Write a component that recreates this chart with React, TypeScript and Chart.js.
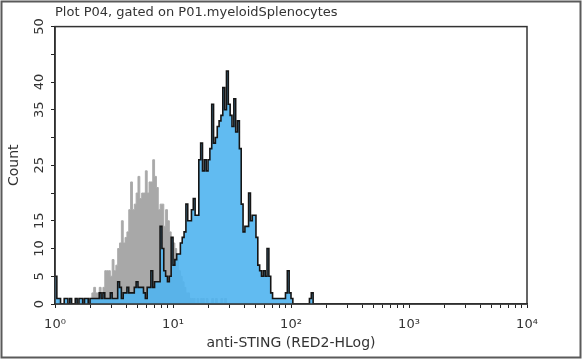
import React, { useEffect, useRef } from 'react';
import { Chart, registerables } from 'chart.js';

Chart.register(...registerables);

const chartTitle = 'Plot P04, gated on P01.myeloidSplenocytes';
const xAxisTitle = 'anti-STING (RED2-HLog)';
const yAxisTitle = 'Count';

const binsPerDecade = 64;
const decadeExponents = [0, 1, 2, 3, 4];
const decadeLabels = ['10⁰', '10¹', '10²', '10³', '10⁴'];
const minorMultiples = [2, 3, 4, 5, 6, 7, 8, 9];
const yTickLabelsShown = [0, 5, 10, 15, 25, 35, 40, 50];

// grey histogram (control), one value per bin, 64 bins per decade starting at 10^0
const isotypeCounts = [
  0, 0, 1, 0, 0, 1, 0, 0, 1, 0,
  0, 1, 0, 1, 0, 1, 1, 0, 1, 1,
  2, 3, 2, 2, 3, 2, 3, 6, 6, 6,
  5, 8, 6, 7, 10, 11, 15, 11, 12, 13,
  17, 22, 17, 18, 20, 23, 19, 20, 20, 24,
  20, 22, 22, 26, 23, 21, 17, 18, 18, 14,
  17, 15, 13, 12, 11, 10, 8, 6, 5, 4,
  3, 2, 2, 1, 1, 1, 0, 1, 0, 1,
  1, 0, 1, 0, 0, 1, 0, 1, 0, 0,
  1, 0, 1, 0, 0, 0, 0, 0, 0, 0,
  0, 0, 0, 0, 0, 0, 0, 0, 0, 0,
  0, 0, 0, 0, 0, 0, 0, 0, 0, 0,
  0, 0, 0, 0, 0, 0, 0, 0, 0, 0,
  0, 0, 0, 0, 0, 0, 0, 0, 0, 0,
  0, 0, 0, 0,
];

// blue histogram (anti-STING), same bins
const stingCounts = [
  5, 1, 1, 0, 0, 1, 1, 0, 1, 0,
  0, 1, 0, 1, 1, 0, 1, 1, 0, 1,
  1, 1, 1, 1, 2, 1, 2, 1, 1, 1,
  2, 1, 1, 1, 4, 3, 1, 2, 2, 3,
  2, 2, 2, 3, 4, 3, 3, 3, 2, 1,
  3, 3, 6, 3, 4, 4, 4, 14, 10, 6,
  5, 4, 5, 12, 7, 8, 9, 9, 11, 12,
  13, 18, 15, 15, 17, 19, 16, 16, 26, 29,
  24, 26, 24, 26, 28, 36, 29, 30, 32, 33,
  34, 39, 35, 42, 36, 34, 32, 37, 31, 33,
  28, 18, 13, 14, 14, 20, 15, 16, 16, 12,
  7, 6, 5, 6, 5, 10, 5, 2, 1, 1,
  1, 1, 1, 1, 1, 2, 6, 2, 1, 0,
  0, 0, 0, 0, 0, 0, 0, 0, 1, 2,
  0, 0, 0, 0,
];

const FONT = '"DejaVu Sans", Verdana, sans-serif';
const TEXT = '#333333';

const toPoints = (counts: number[]) => {
  const pts = counts.map((c, i) => ({ x: i / binsPerDecade, y: c }));
  pts.push({ x: counts.length / binsPerDecade, y: 0 });
  return pts;
};

const decorPlugin = {
  id: 'decor',
  beforeDraw(chart: any) {
    const { ctx } = chart;
    ctx.save();
    ctx.fillStyle = '#ffffff';
    ctx.fillRect(0, 0, chart.width, chart.height);
    ctx.restore();
  },
  afterDraw(chart: any) {
    const { ctx, chartArea, scales } = chart;
    ctx.save();
    ctx.strokeStyle = '#333333';
    ctx.lineWidth = 1.5;
    ctx.strokeRect(chartArea.left, chartArea.top, chartArea.right - chartArea.left, chartArea.bottom - chartArea.top);
    ctx.strokeStyle = '#5a5a5a';
    ctx.lineWidth = 2;
    ctx.strokeRect(1.5, 1.5, chart.width - 4, chart.height - 4);
    ctx.fillStyle = TEXT;
    ctx.font = `13px ${FONT}`;
    ctx.textAlign = 'center';
    ctx.textBaseline = 'middle';
    for (const v of yTickLabelsShown) {
      const y = scales.y.getPixelForValue(v);
      ctx.save();
      ctx.translate(chartArea.left - 15, y);
      ctx.rotate(-Math.PI / 2);
      ctx.fillText(String(v), 0, 0);
      ctx.restore();
    }
    ctx.restore();
  },
};

export default function App() {
  const canvasRef = useRef<HTMLCanvasElement | null>(null);

  useEffect(() => {
    if (!canvasRef.current) return;
    Chart.defaults.font.family = FONT;
    Chart.defaults.color = TEXT;
    const chart = new Chart(canvasRef.current, {
      type: 'line',
      data: {
        datasets: [
          {
            label: 'anti-STING',
            data: toPoints(stingCounts),
            stepped: true,
            borderColor: '#151515',
            borderWidth: 1.6,
            backgroundColor: 'rgba(80, 180, 240, 0.9)',
            fill: 'origin',
            pointRadius: 0,
          },
          {
            label: 'control',
            data: toPoints(isotypeCounts),
            stepped: true,
            borderColor: '#ababab',
            borderWidth: 1,
            backgroundColor: '#a8a8a8',
            fill: 'origin',
            pointRadius: 0,
          },
        ],
      },
      options: {
        animation: false,
        responsive: false,
        devicePixelRatio: 1,
        layout: { padding: { left: 0, right: 56, top: 0, bottom: 0 } },
        plugins: {
          legend: { display: false },
          tooltip: { enabled: false },
          title: {
            display: true,
            text: chartTitle,
            align: 'start',
            fullSize: false,
            color: TEXT,
            font: { size: 13, weight: 'normal', family: FONT },
            padding: { top: 5, bottom: 6 },
          },
        },
        scales: {
          x: {
            type: 'linear',
            min: decadeExponents[0],
            max: decadeExponents[decadeExponents.length - 1],
            afterBuildTicks: (scale: any) => {
              const ticks: { value: number }[] = [];
              decadeExponents.forEach((e, i) => {
                ticks.push({ value: e });
                if (i < decadeExponents.length - 1) {
                  minorMultiples.forEach((m) => ticks.push({ value: e + Math.log10(m) }));
                }
              });
              scale.ticks = ticks;
            },
            afterFit: (scale: any) => {
              scale.height = 56;
            },
            ticks: {
              autoSkip: false,
              maxRotation: 0,
              padding: 9,
              color: TEXT,
              font: { size: 13, family: FONT },
              callback: (value: any) => {
                const idx = decadeExponents.indexOf(Number(value));
                return idx >= 0 ? decadeLabels[idx] : '';
              },
            },
            grid: { drawOnChartArea: false, drawTicks: true, tickLength: 4, color: '#222222' },
            border: { display: true, color: '#222222', width: 1.5 },
            title: {
              display: true,
              text: xAxisTitle,
              color: TEXT,
              font: { size: 14, family: FONT },
              padding: { top: 0, bottom: 8 },
            },
          },
          y: {
            type: 'linear',
            min: 0,
            max: 50,
            afterFit: (scale: any) => {
              scale.width = 55;
            },
            ticks: { display: false, stepSize: 5 },
            grid: { drawOnChartArea: false, drawTicks: true, tickLength: 4, color: '#222222' },
            border: { display: true, color: '#222222', width: 1.5 },
            title: {
              display: true,
              text: yAxisTitle,
              color: TEXT,
              font: { size: 14, family: FONT },
              padding: { top: 6, bottom: 0 },
            },
          },
        },
      },
      plugins: [decorPlugin],
    });
    return () => chart.destroy();
  }, []);

  return (
    <div style={{ position: 'absolute', left: 0, top: 0, width: 583, height: 360 }}>
      <canvas ref={canvasRef} width={583} height={360} />
    </div>
  );
}
